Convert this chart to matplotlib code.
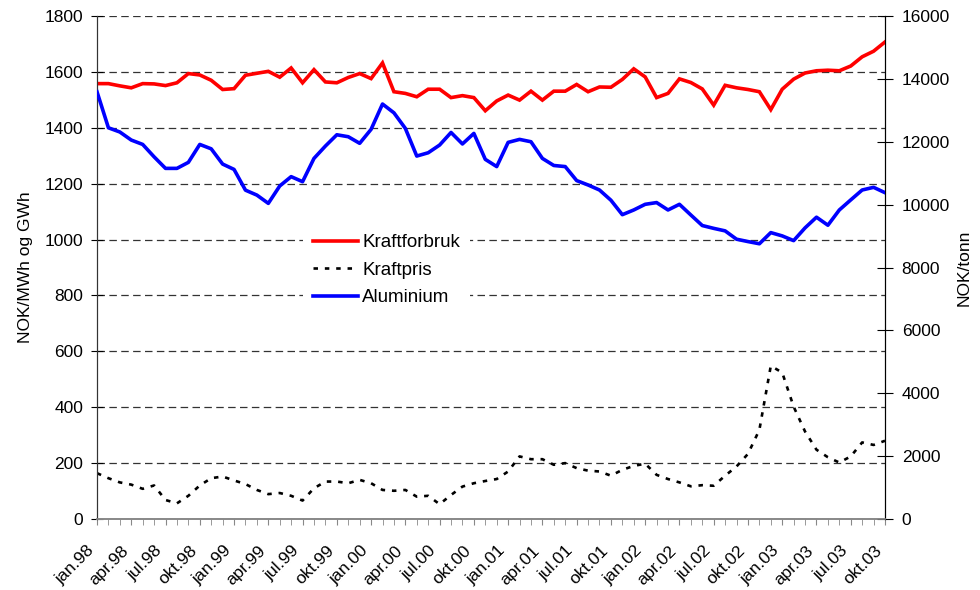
import matplotlib
matplotlib.use("Agg")
import matplotlib.pyplot as plt
from matplotlib.transforms import ScaledTranslation
from matplotlib.lines import Line2D

plt.rcParams['font.family'] = ['Liberation Sans', 'DejaVu Sans']

months = ["jan", "feb", "mar", "apr", "mai", "jun", "jul", "aug", "sep", "okt", "nov", "des"]
years = ["98", "99", "00", "01", "02", "03"]
periods = [f"{m}.{y}" for y in years for m in months][:70]

kraftforbruk = [1558, 1558, 1550, 1543, 1558, 1557, 1551, 1561, 1594, 1589,
                1570, 1537, 1540, 1588, 1595, 1602, 1581, 1614, 1561, 1608,
                1564, 1561, 1580, 1594, 1576, 1632, 1529, 1523, 1511, 1538,
                1538, 1508, 1515, 1508, 1461, 1496, 1517, 1499, 1531, 1499,
                1531, 1531, 1555, 1529, 1546, 1545, 1573, 1611, 1582, 1508,
                1523, 1575, 1562, 1539, 1481, 1552, 1543, 1537, 1529, 1465,
                1538, 1574, 1596, 1604, 1606, 1604, 1621, 1654, 1674, 1707]

kraftpris = [164, 146, 131, 123, 108, 120, 68, 56, 83, 120,
             146, 152, 138, 125, 104, 89, 93, 83, 66, 110,
             134, 134, 128, 140, 128, 104, 101, 104, 80, 83,
             53, 86, 116, 128, 136, 143, 170, 224, 214, 214,
             194, 200, 182, 173, 170, 155, 176, 190, 198, 158,
             143, 131, 117, 121, 119, 155, 188, 233, 319, 548,
             524, 402, 313, 248, 221, 202, 224, 274, 265, 280]

aluminium = [13590, 12444, 12310, 12054, 11915, 11520, 11153, 11153, 11344, 11915,
             11775, 11290, 11120, 10460, 10303, 10040, 10593, 10890, 10730, 11470,
             11863, 12222, 12160, 11950, 12395, 13200, 12920, 12425, 11545, 11650,
             11895, 12295, 11930, 12265, 11440, 11210, 11980, 12075, 12000, 11470,
             11245, 11210, 10765, 10625, 10465, 10140, 9680, 9830, 10010, 10065,
             9830, 10010, 9670, 9335, 9245, 9165, 8900, 8825, 8755, 9110,
             9005, 8855, 9260, 9600, 9345, 9830, 10150, 10465, 10550, 10380]

left_label = "NOK/MWh og GWh"
right_label = "NOK/tonn"

W, H = 980, 590
fig = plt.figure(figsize=(W / 100, H / 100), dpi=100)
ax = fig.add_axes([97 / W, 1 - 519 / H, (885 - 97) / W, (519 - 16) / H])
ax2 = ax.twinx()

x = list(range(len(periods)))
FS = 12.5

l1, = ax.plot(x, kraftforbruk, color='#ff0000', lw=2.6, solid_joinstyle='miter', zorder=3)
l2, = ax.plot(x, kraftpris, color='black', lw=1.9, dashes=(1.7, 2.6), zorder=3)
l3, = ax2.plot(x, aluminium, color='#0000ff', lw=2.6, zorder=3)

ax.set_xlim(0, len(periods) - 1)
ax.set_ylim(0, 1800)
ax.set_yticks(range(0, 1801, 200))
ax2.set_ylim(0, 16000)
ax2.set_yticks(range(0, 16001, 2000))

ax.yaxis.grid(True, color='#333333', lw=0.9, dashes=(6, 3.5))
ax.set_axisbelow(True)

ax.set_xticks(x, minor=True)
ax.set_xticks(x[::3])
ax.set_xticklabels(periods[::3], rotation=45, ha='right', va='center',
                   rotation_mode='anchor', fontsize=FS)
ax.tick_params(axis='x', which='both', direction='out', length=4, color='#888888', pad=17)
ax.tick_params(axis='y', direction='inout', length=8, labelsize=FS, pad=6)
ax2.tick_params(axis='y', direction='inout', length=12, labelsize=FS, pad=6)
for lbl in ax.get_xticklabels():
    lbl.set_transform(lbl.get_transform() + ScaledTranslation(-4 / 72, 0, fig.dpi_scale_trans))

for a in (ax, ax2):
    a.spines['top'].set_visible(False)
    a.spines['left'].set_color('#333333')
    a.spines['bottom'].set_color('#888888')
    a.spines['right'].set_color('black')
    a.spines['bottom'].set_linewidth(1.2)

ax.set_ylabel(left_label, fontsize=FS, labelpad=8)
ax2.set_ylabel(right_label, fontsize=FS, labelpad=5)

handles = [Line2D([], [], color='#ff0000', lw=2.6),
           Line2D([], [], color='black', lw=1.9, dashes=(1.7, 2.6)),
           Line2D([], [], color='#0000ff', lw=2.6)]
leg = fig.legend(handles, ["Kraftforbruk", "Kraftpris", "Aluminium"],
                 loc='upper left', bbox_to_anchor=(303 / W, 1 - 224 / H),
                 frameon=True, facecolor='white', edgecolor='none', framealpha=1,
                 fancybox=False, fontsize=13.5, handlelength=2.4, handletextpad=0.2,
                 labelspacing=0.55, borderpad=0.55, borderaxespad=0)

fig.savefig("out.png", dpi=100)
